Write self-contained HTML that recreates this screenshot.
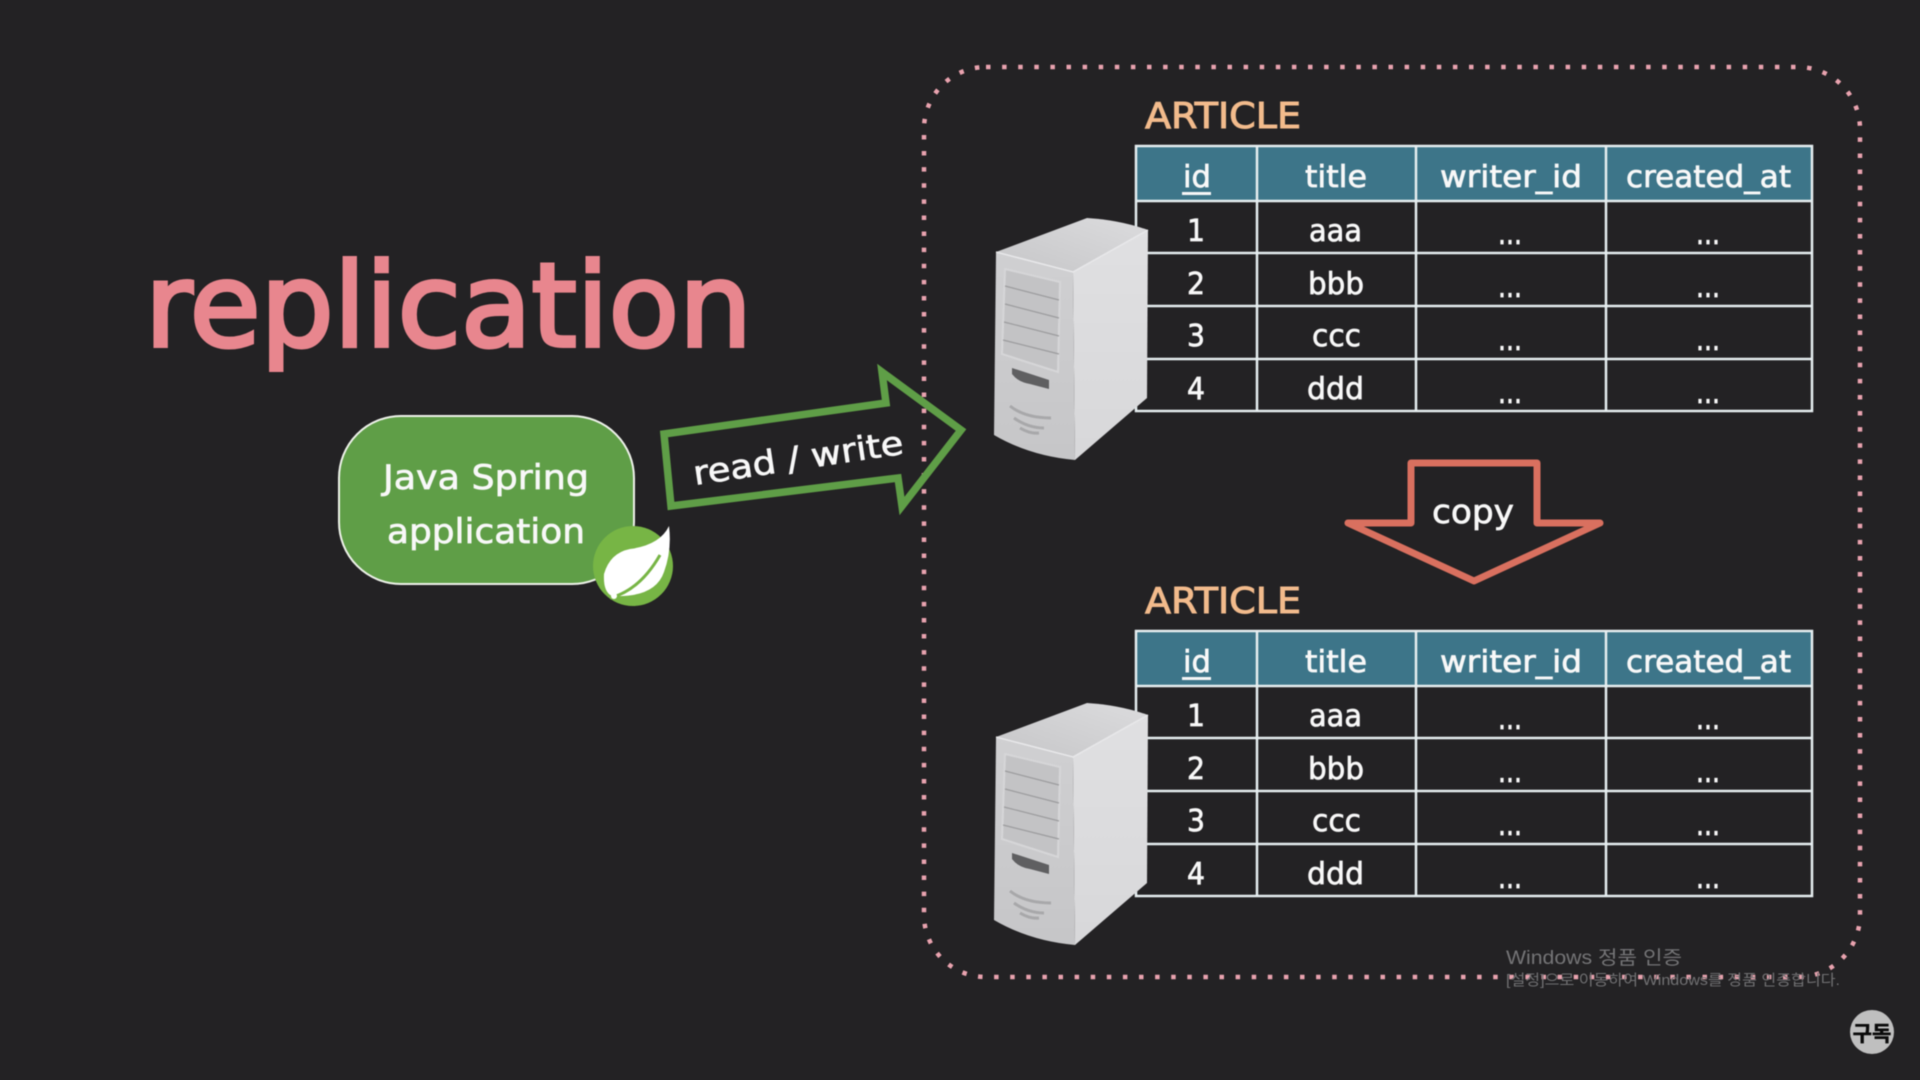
<!DOCTYPE html>
<html><head><meta charset="utf-8"><style>
html,body{margin:0;padding:0;background:#232224;width:1920px;height:1080px;overflow:hidden}
svg{display:block;filter:blur(.4px)}
text{font-family:"DejaVu Sans","Liberation Sans","Noto Sans CJK KR",sans-serif;fill:#f8f8f8;stroke:#f8f8f8;stroke-width:.7}
.k{font-family:"Liberation Sans","Noto Sans CJK KR",sans-serif;stroke:none}
.h,.c{font-size:30px;text-anchor:start}
</style></head><body>
<svg width="1920" height="1080" viewBox="0 0 1920 1080" xmlns="http://www.w3.org/2000/svg">
<defs>
<linearGradient id="top" x1="0" y1="1" x2="1" y2="0"><stop offset="0" stop-color="#c6c6c8"/><stop offset="1" stop-color="#dcdcde"/></linearGradient>
<linearGradient id="fr" x1="0" y1="0" x2="0" y2="1"><stop offset="0" stop-color="#d0d0d2"/><stop offset="1" stop-color="#c6c6c8"/></linearGradient>
<linearGradient id="ri" x1="0" y1="0" x2="0" y2="1"><stop offset="0" stop-color="#e0e0e2"/><stop offset="1" stop-color="#d8d8da"/></linearGradient>
<g id="srv">
<path d="M996 252 L1087 218 Q1120 220 1148 230 L1073 272 Z" fill="url(#top)"/>
<path d="M996 252 L1073 272 L1075 460 Q1030 456 994 435 Z" fill="url(#fr)"/>
<path d="M1073 272 L1148 230 L1147 398 L1075 460 Z" fill="url(#ri)"/>
<path d="M996 252 L1073 272 L1148 230" fill="none" stroke="#e8e8ea" stroke-width="1.5"/>
<path d="M1005 269 L1060 282 L1058 372 L1002 354 Z" fill="#c3c3c5" stroke="#d6d6d8" stroke-width="2"/>
<path d="M1005 286 L1059 300 M1005 304 L1059 318 M1004 322 L1059 336 M1003 340 L1059 354" stroke="#9c9c9e" stroke-width="1.2" fill="none"/>
<path d="M1012 368 L1049 380 L1049 389 L1030 384 Q1018 382 1012 374 Z" fill="#5f5f61"/>
<path d="M1010 406 Q1025 418 1051 418 M1014 418 Q1028 428 1044 428 M1020 428 Q1030 434 1039 433" fill="none" stroke="#a8a8aa" stroke-width="3"/>
</g>
</defs>

<rect x="924" y="67" width="936" height="910" rx="62" ry="62" fill="none" stroke="#e9a3af" stroke-width="4.5" stroke-dasharray="4.5 11.6"/>

<text x="145" y="346" style="font-size:116px;fill:#e8868e;stroke:#e8868e;stroke-width:4" textLength="607" lengthAdjust="spacingAndGlyphs">replication</text>

<!-- Java box -->
<rect x="339" y="416" width="295" height="168" rx="62" ry="62" fill="#5f9e47" stroke="#eef2ea" stroke-width="2"/>
<text x="383" y="489" style="font-size:34px" textLength="206" lengthAdjust="spacingAndGlyphs">Java Spring</text>
<text x="387" y="543" style="font-size:34px" textLength="198" lengthAdjust="spacingAndGlyphs">application</text>
<circle cx="633" cy="566" r="40" fill="#77b545"/>
<path d="M669 526 Q660 545 630 549 Q610 553 604 574 Q603 592 612 596 Q655 598 664 572 Q672 550 669 526 Z" fill="#fff"/>
<path d="M610 598 Q640 590 660 555" fill="none" stroke="#77b545" stroke-width="3"/>
<circle cx="614" cy="596" r="3" fill="#fff"/>

<!-- read/write arrow -->
<path d="M664 434 L886 403 L882 372 L961 430 L902 506 L898 478 L671 506 Z" fill="none" stroke="#5f9e47" stroke-width="7.5" stroke-linejoin="miter"/>
<text transform="translate(695 485) rotate(-8.5)" style="font-size:33px" textLength="212" lengthAdjust="spacingAndGlyphs">read / write</text>

<!-- copy arrow -->
<path d="M1411 463 L1537 463 L1537 523 L1600 523 L1474 581 L1348 523 L1411 523 Z" fill="none" stroke="#d9705f" stroke-width="7" stroke-linejoin="round"/>
<text x="1432" y="523" style="font-size:33px" textLength="82" lengthAdjust="spacingAndGlyphs">copy</text>

<!-- Table 1 -->
<text x="1145" y="128" style="font-size:36px;fill:#f2bb8c;stroke:#f2bb8c;stroke-width:1" textLength="156" lengthAdjust="spacingAndGlyphs">ARTICLE</text>
<rect x="1136" y="146" width="676" height="55" fill="#3d7589"/>
<path d="M1136 146 H1812 V411 H1136 Z M1136 201 H1812 M1136 253 H1812 M1136 306 H1812 M1136 359 H1812 M1257 146 V411 M1416 146 V411 M1606 146 V411" fill="none" stroke="#e6eef0" stroke-width="2.5"/>
<text class="h" x="1183" y="187" textLength="28" lengthAdjust="spacingAndGlyphs">id</text><rect x="1182" y="192" width="29" height="3" fill="#f6f6f6"/>
<text class="h" x="1305" y="187" textLength="62" lengthAdjust="spacingAndGlyphs">title</text>
<text class="h" x="1440" y="187" textLength="142" lengthAdjust="spacingAndGlyphs">writer_id</text>
<text class="h" x="1626" y="187" textLength="165" lengthAdjust="spacingAndGlyphs">created_at</text>
<text class="c" x="1187" y="241" textLength="18" lengthAdjust="spacingAndGlyphs">1</text><text class="c" x="1309" y="241" textLength="53" lengthAdjust="spacingAndGlyphs">aaa</text><text class="c" x="1498" y="244" textLength="24" lengthAdjust="spacingAndGlyphs">...</text><text class="c" x="1696" y="244" textLength="24" lengthAdjust="spacingAndGlyphs">...</text>
<text class="c" x="1187" y="294" textLength="18" lengthAdjust="spacingAndGlyphs">2</text><text class="c" x="1308" y="294" textLength="56" lengthAdjust="spacingAndGlyphs">bbb</text><text class="c" x="1498" y="297" textLength="24" lengthAdjust="spacingAndGlyphs">...</text><text class="c" x="1696" y="297" textLength="24" lengthAdjust="spacingAndGlyphs">...</text>
<text class="c" x="1187" y="346" textLength="18" lengthAdjust="spacingAndGlyphs">3</text><text class="c" x="1312" y="346" textLength="49" lengthAdjust="spacingAndGlyphs">ccc</text><text class="c" x="1498" y="350" textLength="24" lengthAdjust="spacingAndGlyphs">...</text><text class="c" x="1696" y="350" textLength="24" lengthAdjust="spacingAndGlyphs">...</text>
<text class="c" x="1187" y="399" textLength="18" lengthAdjust="spacingAndGlyphs">4</text><text class="c" x="1307" y="399" textLength="57" lengthAdjust="spacingAndGlyphs">ddd</text><text class="c" x="1498" y="403" textLength="24" lengthAdjust="spacingAndGlyphs">...</text><text class="c" x="1696" y="403" textLength="24" lengthAdjust="spacingAndGlyphs">...</text>
<use href="#srv"/>

<!-- Table 2 -->
<text x="1145" y="613" style="font-size:36px;fill:#f2bb8c;stroke:#f2bb8c;stroke-width:1" textLength="156" lengthAdjust="spacingAndGlyphs">ARTICLE</text>
<rect x="1136" y="631" width="676" height="55" fill="#3d7589"/>
<path d="M1136 631 H1812 V896 H1136 Z M1136 686 H1812 M1136 738 H1812 M1136 791 H1812 M1136 844 H1812 M1257 631 V896 M1416 631 V896 M1606 631 V896" fill="none" stroke="#e6eef0" stroke-width="2.5"/>
<text class="h" x="1183" y="672" textLength="28" lengthAdjust="spacingAndGlyphs">id</text><rect x="1182" y="677" width="29" height="3" fill="#f6f6f6"/>
<text class="h" x="1305" y="672" textLength="62" lengthAdjust="spacingAndGlyphs">title</text>
<text class="h" x="1440" y="672" textLength="142" lengthAdjust="spacingAndGlyphs">writer_id</text>
<text class="h" x="1626" y="672" textLength="165" lengthAdjust="spacingAndGlyphs">created_at</text>
<text class="c" x="1187" y="726" textLength="18" lengthAdjust="spacingAndGlyphs">1</text><text class="c" x="1309" y="726" textLength="53" lengthAdjust="spacingAndGlyphs">aaa</text><text class="c" x="1498" y="729" textLength="24" lengthAdjust="spacingAndGlyphs">...</text><text class="c" x="1696" y="729" textLength="24" lengthAdjust="spacingAndGlyphs">...</text>
<text class="c" x="1187" y="779" textLength="18" lengthAdjust="spacingAndGlyphs">2</text><text class="c" x="1308" y="779" textLength="56" lengthAdjust="spacingAndGlyphs">bbb</text><text class="c" x="1498" y="782" textLength="24" lengthAdjust="spacingAndGlyphs">...</text><text class="c" x="1696" y="782" textLength="24" lengthAdjust="spacingAndGlyphs">...</text>
<text class="c" x="1187" y="831" textLength="18" lengthAdjust="spacingAndGlyphs">3</text><text class="c" x="1312" y="831" textLength="49" lengthAdjust="spacingAndGlyphs">ccc</text><text class="c" x="1498" y="835" textLength="24" lengthAdjust="spacingAndGlyphs">...</text><text class="c" x="1696" y="835" textLength="24" lengthAdjust="spacingAndGlyphs">...</text>
<text class="c" x="1187" y="884" textLength="18" lengthAdjust="spacingAndGlyphs">4</text><text class="c" x="1307" y="884" textLength="57" lengthAdjust="spacingAndGlyphs">ddd</text><text class="c" x="1498" y="888" textLength="24" lengthAdjust="spacingAndGlyphs">...</text><text class="c" x="1696" y="888" textLength="24" lengthAdjust="spacingAndGlyphs">...</text>
<use href="#srv" transform="translate(0 485)"/>

<!-- watermark -->
<text class="k" x="1506" y="964" style="font-size:19px;fill:#757577" textLength="176" lengthAdjust="spacingAndGlyphs">Windows 정품 인증</text>
<text class="k" x="1506" y="985" style="font-size:15px;fill:#717173" textLength="334" lengthAdjust="spacingAndGlyphs">[설정]으로 이동하여 Windows를 정품 인증합니다.</text>

<circle cx="1872" cy="1032" r="22" fill="#bfbfbf"/>
<text class="k" x="1872" y="1041" text-anchor="middle" style="font-size:21px;font-weight:bold;fill:#0a0a0a;stroke:#0a0a0a;stroke-width:.5">구독</text>
</svg>
</body></html>
